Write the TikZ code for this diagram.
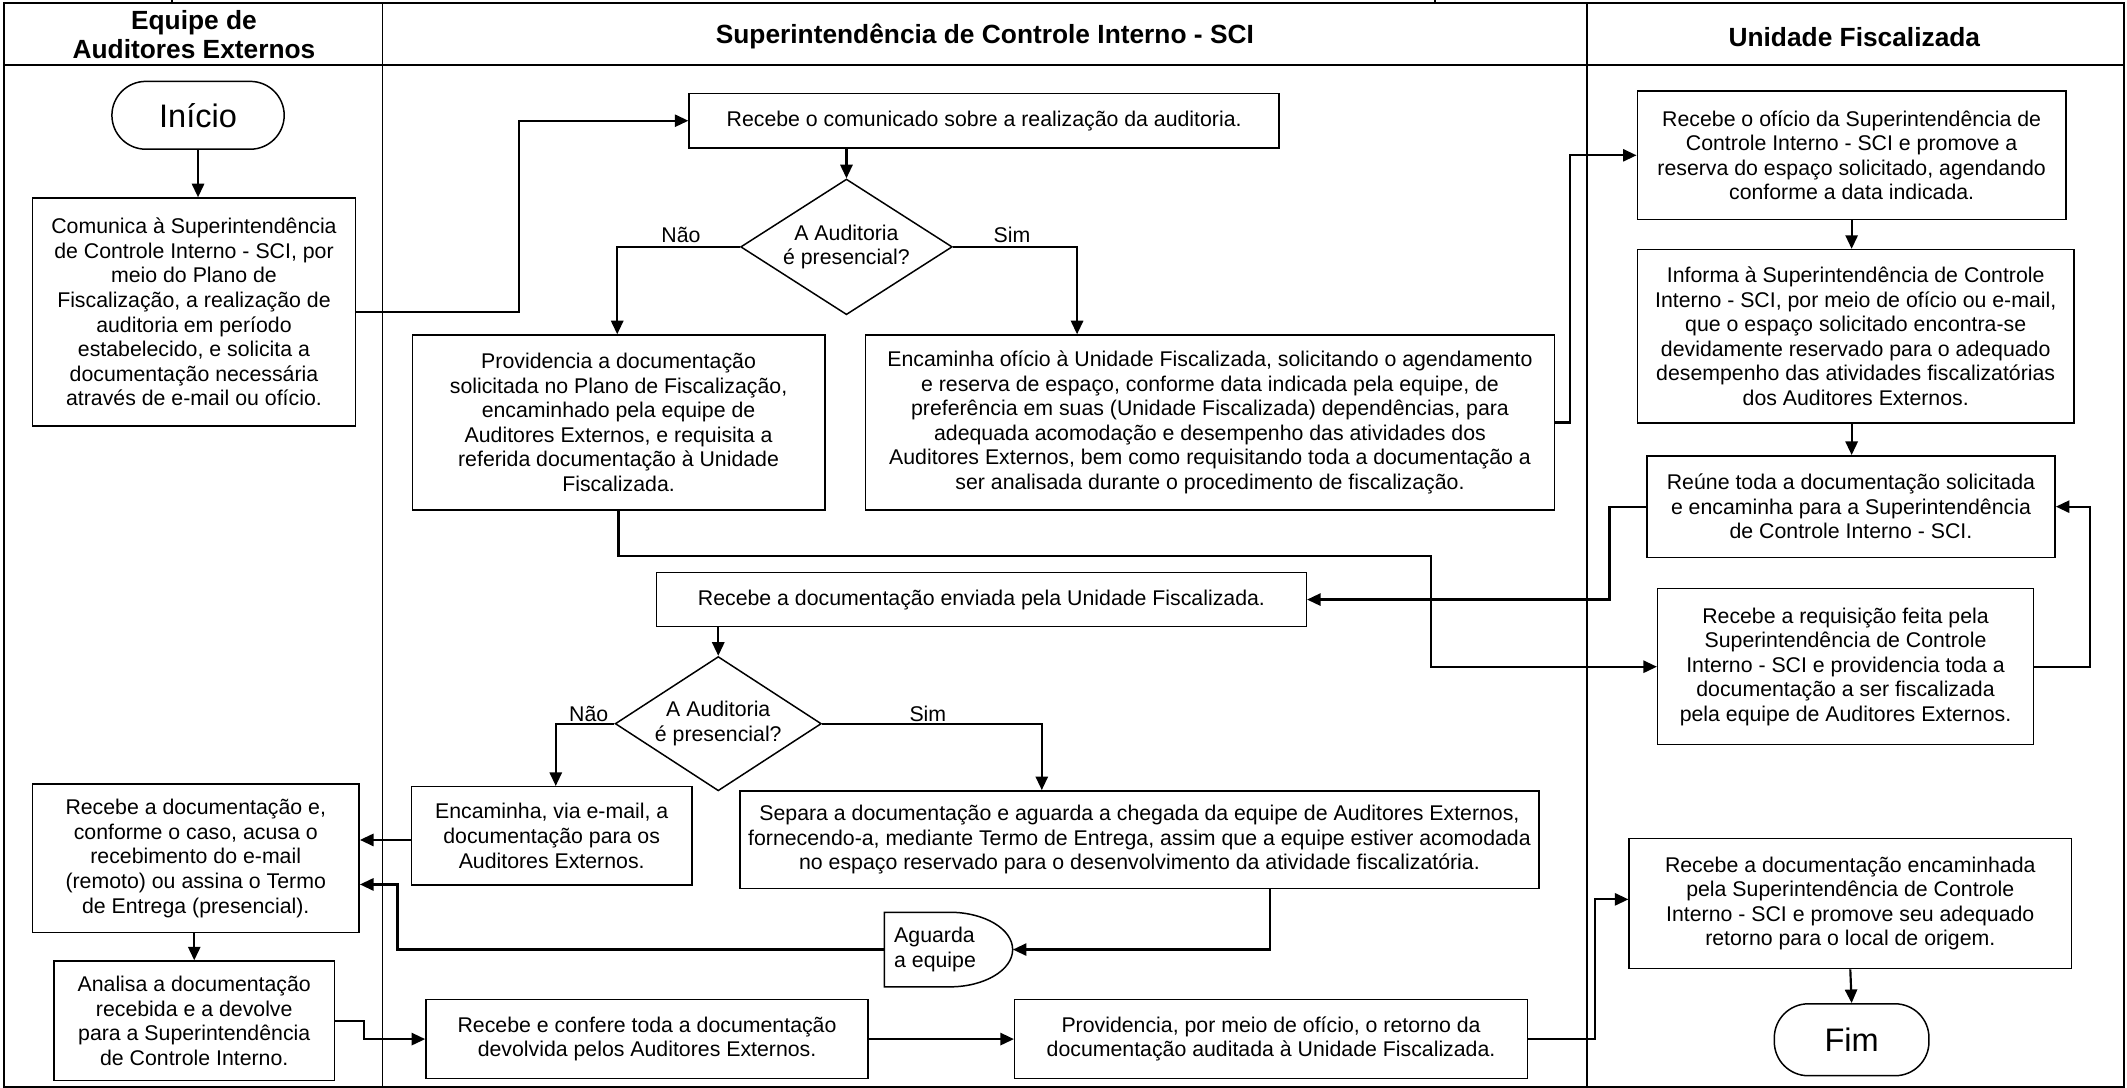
\documentclass[tikz,border=0pt]{standalone}
\usepackage{fontspec}
\setmainfont{Liberation Sans}
\usetikzlibrary{arrows.meta,shapes.geometric}
\begin{document}
\begin{tikzpicture}[x=1pt,y=-1pt,
  body/.style={font=\fontsize{15.7}{18.1}\selectfont},
  box/.style={draw, line width=1.1pt, inner sep=0pt, align=center, body},
  term/.style={draw, line width=1.1pt, inner sep=0pt, rounded corners=25pt, font=\fontsize{24}{28}\selectfont},
  decision/.style={draw, diamond, aspect=1.55, line width=1.1pt, inner sep=0pt, align=center, body},
  head/.style={align=center, font=\bfseries\fontsize{19.4}{22}\selectfont},
  lbl/.style={inner sep=1pt, body},
  flow/.style={line width=1.6pt, -{Triangle[length=10pt,width=9pt]}},
  lane/.style={line width=1.2pt}]
\useasboundingbox (0,0) rectangle (1568,802);

% swimlanes
\draw[lane, line width=1.5pt] (3,2.5) rectangle (1566,801);
\draw[lane] (3,48) -- (1566,48);
\draw[lane] (282,2.5) -- (282,801);
\draw[lane] (1170,2.5) -- (1170,801);
\draw[lane] (127,0) -- (127,2.5);
\draw[lane] (1058,0) -- (1058,2.5);

\node[head] (h1) at (143,25.5) {Equipe de\\Auditores Externos};
\node[head] (h2) at (726,27) {Superintendência de Controle Interno - SCI};
\node[head] (h3) at (1367,27) {Unidade Fiscalizada};

% Equipe de Auditores Externos
\node[term, minimum width=127pt, minimum height=50pt] (ini) at (146,85) {Início};
\node[box, minimum width=238pt, minimum height=168pt] (com) at (143,230)
  {Comunica à Superintendência\\de Controle Interno - SCI, por\\meio do Plano de\\Fiscalização, a realização de\\auditoria em período\\estabelecido, e solicita a\\documentação necessária\\através de e-mail ou ofício.};
\node[box, minimum width=241pt, minimum height=109.6pt] (a2) at (144.3,632.8)
  {Recebe a documentação e,\\conforme o caso, acusa o\\recebimento do e-mail\\(remoto) ou assina o Termo\\de Entrega (presencial).};
\node[box, minimum width=206.5pt, minimum height=88pt] (a3) at (143.2,752.5)
  {Analisa a documentação\\recebida e a devolve\\para a Superintendência\\de Controle Interno.};

% Superintendencia de Controle Interno
\node[box, minimum width=435pt, minimum height=40pt] (r1) at (725.5,89)
  {Recebe o comunicado sobre a realização da auditoria.};
\node[decision, minimum width=156pt, minimum height=100pt] (d1) at (624,182)
  {A Auditoria\\é presencial?};
\node[box, minimum width=304pt, minimum height=129pt] (p1) at (456,311.5)
  {Providencia a documentação\\solicitada no Plano de Fiscalização,\\encaminhado pela equipe de\\Auditores Externos, e requisita a\\referida documentação à Unidade\\Fiscalizada.};
\node[box, minimum width=508pt, minimum height=129pt] (e1) at (892,311.5)
  {Encaminha ofício à Unidade Fiscalizada, solicitando o agendamento\\e reserva de espaço, conforme data indicada pela equipe, de\\preferência em suas (Unidade Fiscalizada) dependências, para\\adequada acomodação e desempenho das atividades dos\\Auditores Externos, bem como requisitando toda a documentação a\\ser analisada durante o procedimento de fiscalização.};
\node[box, minimum width=479pt, minimum height=40pt] (r2) at (723.5,442)
  {Recebe a documentação enviada pela Unidade Fiscalizada.};
\node[decision, minimum width=152pt, minimum height=99pt] (d2) at (529.5,533.5)
  {A Auditoria\\é presencial?};
\node[box, minimum width=206.5pt, minimum height=72.5pt] (v1) at (406.7,616.2)
  {Encaminha, via e-mail, a\\documentação para os\\Auditores Externos.};
\node[box, minimum width=589pt, minimum height=72pt] (s1) at (840,619)
  {Separa a documentação e aguarda a chegada da equipe de Auditores Externos,\\fornecendo-a, mediante Termo de Entrega, assim que a equipe estiver acomodada\\no espaço reservado para o desenvolvimento da atividade fiscalizatória.};
% delay shape: flat left side, half-elliptic right side
\node[minimum width=94.5pt, minimum height=55pt, inner sep=0pt] (ag) at (699.25,700) {};
\draw[line width=1.1pt] (652,672.5) -- (700,672.5)
  arc[start angle=-90, end angle=90, x radius=46.5, y radius=27.5] -- (652,727.5) -- cycle;
\node[anchor=west, align=left, inner sep=0pt, body] (agt) at (659,700) {Aguarda\\a equipe};
\node[box, minimum width=326pt, minimum height=58pt] (rc) at (477,766)
  {Recebe e confere toda a documentação\\devolvida pelos Auditores Externos.};
\node[box, minimum width=378pt, minimum height=58pt] (pr) at (937,766)
  {Providencia, por meio de ofício, o retorno da\\documentação auditada à Unidade Fiscalizada.};

% Unidade Fiscalizada
\node[box, minimum width=316pt, minimum height=95pt] (u1) at (1365,114.5)
  {Recebe o ofício da Superintendência de\\Controle Interno - SCI e promove a\\reserva do espaço solicitado, agendando\\conforme a data indicada.};
\node[box, minimum width=322pt, minimum height=128pt] (u2) at (1368,248)
  {Informa à Superintendência de Controle\\Interno - SCI, por meio de ofício ou e-mail,\\que o espaço solicitado encontra-se\\devidamente reservado para o adequado\\desempenho das atividades fiscalizatórias\\dos Auditores Externos.};
\node[box, minimum width=301pt, minimum height=75pt] (u3) at (1364.5,373.5)
  {Reúne toda a documentação solicitada\\e encaminha para a Superintendência\\de Controle Interno - SCI.};
\node[box, minimum width=277pt, minimum height=115pt] (u4) at (1360.5,491.5)
  {Recebe a requisição feita pela\\Superintendência de Controle\\Interno - SCI e providencia toda a\\documentação a ser fiscalizada\\pela equipe de Auditores Externos.};
\node[box, minimum width=326pt, minimum height=96pt] (u5) at (1364,666)
  {Recebe a documentação encaminhada\\pela Superintendência de Controle\\Interno - SCI e promove seu adequado\\retorno para o local de origem.};
\node[term, minimum width=114pt, minimum height=53pt] (fim) at (1365,766.5) {Fim};

% branch labels
\node[lbl] (nao1) at (502,173) {Não};
\node[lbl] (sim1) at (746,173) {Sim};
\node[lbl] (nao2) at (434,526) {Não};
\node[lbl] (sim2) at (684,526) {Sim};

% connectors
\draw[flow] (ini.south) -- (ini.south |- com.north);
\draw[flow] (com.east) -- ++(120,0) |- (r1.west);
\draw[flow] (r1.south -| d1.north) -- (d1.north);
\draw[flow] (d1.west) -| ([xshift=-1pt]p1.north);
\draw[flow] (d1.east) -| ([xshift=-98pt]e1.north);
\draw[flow] (e1.east) -- ++(11,0) |- (u1.west);
\draw[flow] (p1.south) |- (1055,410) |- (u4.west);
\draw[flow] (u1.south) -- (u1.south |- u2.north);
\draw[flow] (u2.south -| u1.south) -- (u1.south |- u3.north);
\draw[flow] (u4.east) -- ++(41,0) |- (u3.east);
\draw[flow] (u3.west) -- ++(-27,0) |- (r2.east);
\draw[flow] (d2.north |- r2.south) -- (d2.north);
\draw[flow] (d2.west) -| ([xshift=3pt]v1.north);
\draw[flow] (d2.east) -| ([xshift=-72pt]s1.north);
\draw[flow] ([yshift=-3pt]v1.west) -- ([yshift=-3pt]v1.west -| a2.east);
\draw[flow] ([xshift=96pt]s1.south) |- (ag.east);
\draw[flow] (ag.west) -- (293,700) |- ([yshift=-19.2pt]a2.east);
\draw[flow] (a2.south -| a3.north) -- (a3.north);
\draw[flow] (a3.east) -- ++(21.5,0) |- (rc.west);
\draw[flow] (rc.east) -- (pr.west);
\draw[flow] (pr.east) -- ++(49,0) |- ([yshift=3pt]u5.west);
\draw[flow] (u5.south) -- (fim.north);
\end{tikzpicture}
\end{document}
